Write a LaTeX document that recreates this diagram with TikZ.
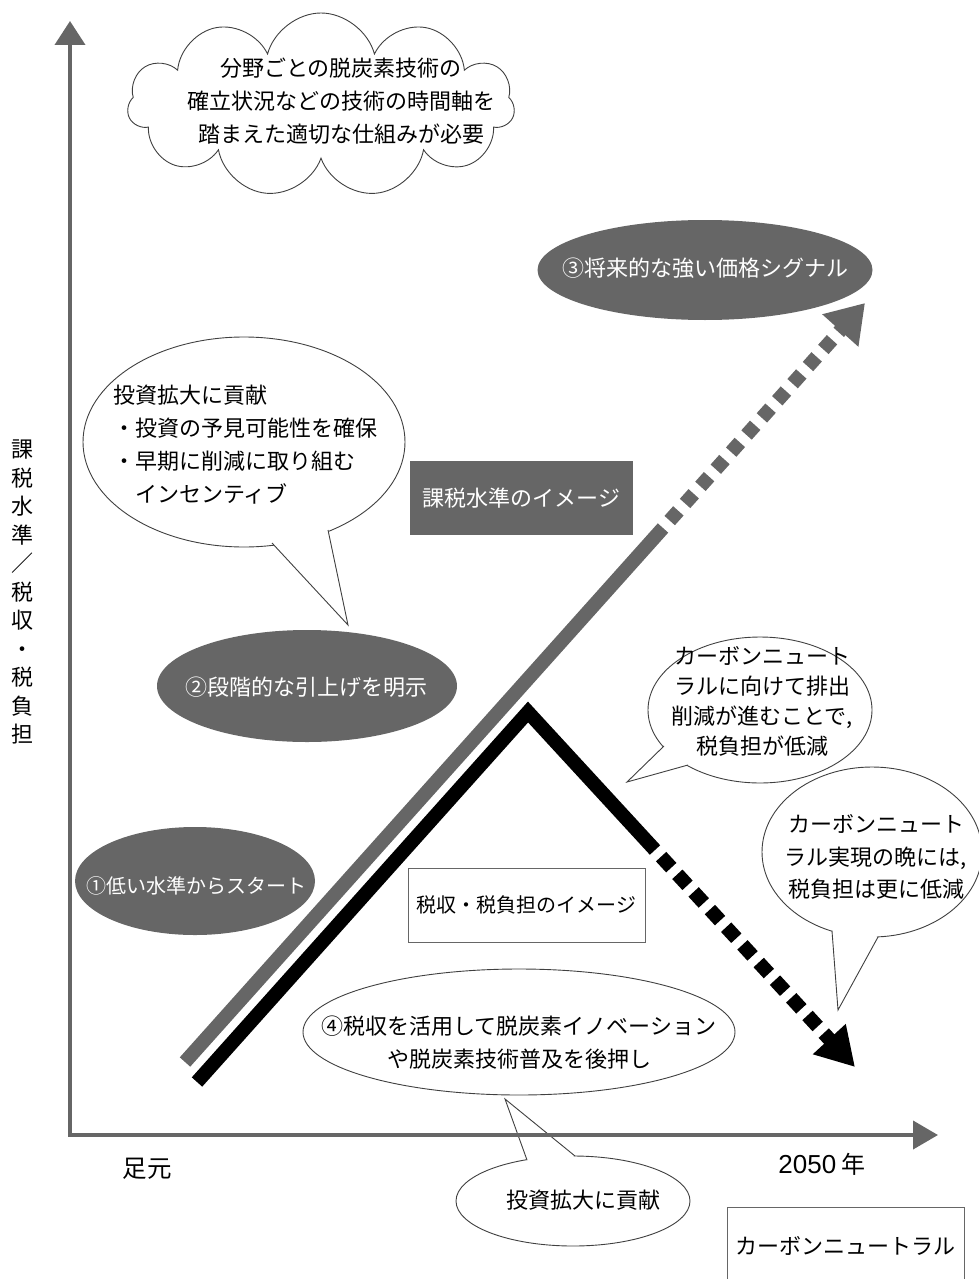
\documentclass[tikz,border=0pt]{standalone}
\usepackage{fontspec}
\setmainfont{Noto Sans CJK JP}
\newfontfamily\arialfont{Liberation Sans}
\usetikzlibrary{shapes.geometric,shapes.symbols,arrows.meta}
\definecolor{g}{HTML}{666666}
\definecolor{ol}{HTML}{404040}
\begin{document}
\begin{tikzpicture}[x=1pt,y=-1pt,
  txt/.style={font=\fontsize{22}{32}\selectfont, align=center, inner sep=0pt},
  wtxt/.style={txt, text=white},
  gell/.style={ellipse, fill=g, inner sep=0pt},
  bub/.style={ellipse, draw=ol, line width=0.9pt, fill=white, inner sep=0pt},
  tailline/.style={draw=ol, line width=0.9pt, line join=miter},
  gline/.style={draw=g, line width=14pt, line cap=butt},
  kline/.style={draw=black, line width=14pt, line cap=butt, line join=miter},
  axisline/.style={draw=g, line width=4pt, line join=miter}
]
\useasboundingbox (0,0) rectangle (979,1279);
\clip (0,0) rectangle (979,1279);

% cloud
\node[cloud, cloud puffs=11, cloud ignores aspect, draw=ol, line width=0.9pt, fill=white,
  minimum width=387pt, minimum height=184pt, inner sep=0pt] (cloud) at (321,105) {};
\node[txt, font=\fontsize{22}{33}\selectfont] (cloudt) at (341,101)
  {分野ごとの脱炭素技術の\\確立状況などの技術の時間軸を\\踏まえた適切な仕組みが必要};

% grey ellipses
\node[gell, minimum width=335pt, minimum height=100pt] (e3) at (705,270) {};
\node[wtxt] (e3t) at (705,268) {③将来的な強い価格シグナル};
\node[gell, minimum width=300pt, minimum height=112pt] (e2) at (307,686) {};
\node[wtxt] (e2t) at (306,687) {②段階的な引上げを明示};
\node[gell, minimum width=240pt, minimum height=108pt] (e1) at (195,881) {};
\node[wtxt, font=\fontsize{20}{30}\selectfont] (e1t) at (196,886) {①低い水準からスタート};

% bubble 1
\node[bub, minimum width=322pt, minimum height=210pt] (b1) at (244,442) {};
\coordinate (b1a) at (272,543);
\coordinate (b1t) at (348,625);
\coordinate (b1b) at (328,530);
\coordinate (b1c) at (297,531);
\fill[white] (b1a) -- (b1t) -- (b1b) -- (b1c) -- cycle;
\draw[tailline] (b1a) -- (b1t) -- (b1b);
\node[txt, align=left, anchor=west, font=\fontsize{22}{33}\selectfont] (b1txt) at (113,445)
  {投資拡大に貢献\\・投資の予見可能性を確保\\・早期に削減に取り組む\\\hspace*{1em}インセンティブ};

% grey box
\node[fill=g, text=white, minimum width=223pt, minimum height=74pt, inner sep=0pt,
  font=\fontsize{22}{32}\selectfont] (r1) at (521.5,498) {課税水準のイメージ};

% bubble 2
\node[bub, minimum width=224pt, minimum height=146pt] (b2) at (760,710) {};
\coordinate (b2a) at (664,746);
\coordinate (b2t) at (627,782);
\coordinate (b2b) at (688,765);
\coordinate (b2c) at (680,751);
\fill[white] (b2a) -- (b2t) -- (b2b) -- (b2c) -- cycle;
\draw[tailline] (b2a) -- (b2t) -- (b2b);
\node[txt, font=\fontsize{22}{30}\selectfont] (b2txt) at (762,701)
  {カーボンニュート\\ラルに向けて排出\\削減が進むことで,\\税負担が低減};

% bubble 3
\node[bub, minimum width=220pt, minimum height=170pt] (b3) at (872,852) {};
\coordinate (b3a) at (832,931);
\coordinate (b3t) at (838,1010);
\coordinate (b3b) at (878,937);
\coordinate (b3c) at (855,925);
\fill[white] (b3a) -- (b3t) -- (b3b) -- (b3c) -- cycle;
\draw[tailline] (b3a) -- (b3t) -- (b3b);
\node[txt, font=\fontsize{22}{32.5}\selectfont] (b3txt) at (876,857)
  {カーボンニュート\\ラル実現の晩には,\\税負担は更に低減};

% white box
\node[draw=black!60, line width=0.9pt, minimum width=237pt, minimum height=74pt, inner sep=0pt,
  font=\fontsize{20}{30}\selectfont] (r2) at (526.5,905) {税収・税負担のイメージ};

% ellipse 4
\node[bub, minimum width=432pt, minimum height=126pt] (e4) at (519,1032) {};
\node[txt, font=\fontsize{22}{33}\selectfont] (e4t) at (519,1043)
  {④税収を活用して脱炭素イノベーション\\や脱炭素技術普及を後押し};

% bubble 5
\node[bub, minimum width=234pt, minimum height=90pt] (b5) at (573,1201) {};
\coordinate (b5a) at (527,1160);
\coordinate (b5t) at (505,1099);
\coordinate (b5b) at (575,1156);
\coordinate (b5c) at (553,1165);
\fill[white] (b5a) -- (b5t) -- (b5b) -- (b5c) -- cycle;
\draw[tailline] (b5a) -- (b5t) -- (b5b);
\node[txt] (b5txt) at (583,1200) {投資拡大に貢献};

% carbon neutral box
\node[draw=black!60, line width=0.9pt, anchor=north west, minimum width=237pt, minimum height=76pt,
  inner sep=0pt, font=\fontsize{22}{32}\selectfont] (cn) at (727,1207) {カーボンニュートラル};

% grey line
\coordinate (g0) at (185,1062);
\coordinate (g1) at (663,528);
\coordinate (g2) at (865,303);
\draw[gline] (g0) -- (g1);
\draw[gline, dash pattern=on 13pt off 10pt, dash phase=13pt, -{Triangle[length=37pt,width=46pt]}] (g1) -- (g2);

% black line
\coordinate (k0) at (197,1082);
\coordinate (k1) at (528,712);
\coordinate (k2) at (655,850);
\coordinate (k3) at (855,1067);
\draw[kline] (k0) -- (k1) -- (k2);
\draw[kline, dash pattern=on 15pt off 9pt, dash phase=15pt, -{Triangle[length=38pt,width=42pt]}] (k2) -- (k3);

% axes
\coordinate (O) at (70,1135);
\coordinate (yt) at (70,21);
\coordinate (xt) at (938,1135);
\draw[axisline, {Triangle[length=24pt,width=30pt]}-{Triangle[length=25pt,width=28pt]}] (yt) -- (O) -- (xt);

% labels
\node[txt, font=\fontsize{22}{28.5}\selectfont] (ylab) at (22,592)
  {課\\税\\水\\準\\／\\税\\収\\・\\税\\負\\担};
\node[txt, font=\fontsize{24.5}{30}\selectfont] (xl0) at (147,1169) {足元};
\node[txt, font=\fontsize{24}{30}\selectfont] (xl1) at (822,1164) {{\arialfont\fontsize{26}{30}\selectfont 2050} 年};
\end{tikzpicture}
\end{document}
